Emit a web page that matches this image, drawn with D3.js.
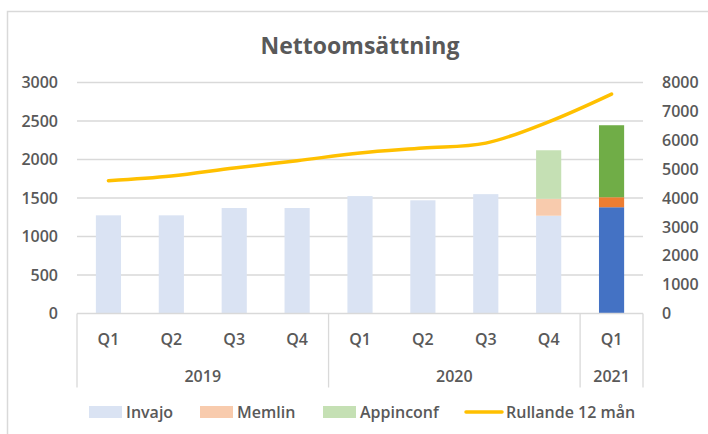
<!DOCTYPE html>
<html>
<head>
<meta charset="utf-8">
<script src="https://cdn.jsdelivr.net/npm/d3@7"></script>
<style>
  body { margin: 0; background: #fff; }
  text { font-family: 'Open Sans', sans-serif; fill: #595959; }
</style>
</head>
<body>
<div id="chart"></div>
<script>
// Data
const quarters = ['Q1', 'Q2', 'Q3', 'Q4', 'Q1', 'Q2', 'Q3', 'Q4', 'Q1'];
const years = ['2019', '2019', '2019', '2019', '2020', '2020', '2020', '2020', '2021'];
const invajo = [1275, 1275, 1370, 1370, 1525, 1470, 1550, 1270, 1380];
const memlin = [0, 0, 0, 0, 0, 0, 0, 220, 130];
const appinconf = [0, 0, 0, 0, 0, 0, 0, 630, 935];
const rullande = [4600, 4760, 5040, 5290, 5560, 5730, 5900, 6640, 7600];
const leftTicks = [0, 500, 1000, 1500, 2000, 2500, 3000];
const rightTicks = [0, 1000, 2000, 3000, 4000, 5000, 6000, 7000, 8000];
const seriesNames = ['Invajo', 'Memlin', 'Appinconf'];
const lineName = 'Rullande 12 mån';
const highlightYear = '2021';

const lightColors = ['#dae3f3', '#f8cbad', '#c5e0b4'];
const darkColors = ['#4472c4', '#ed7d31', '#70ad47'];
const lineColor = '#ffc000';
const gridColor = '#d9d9d9';

//Chart dimensions
const W = 708, H = 434;
const margin = { top: 82.5, bot: 120.5, left: 77, right: 65 };
const width = W - margin.left - margin.right;
const height = H - margin.top - margin.bot;

const svg = d3.select('#chart').append('svg')
  .attr('width', W)
  .attr('height', H);

// outer frame
svg.append('rect')
  .attr('x', 7.5).attr('y', 11.5)
  .attr('width', 720).attr('height', 440)
  .attr('fill', 'none')
  .attr('stroke', gridColor)
  .attr('stroke-width', 1.5);

svg.append('text')
  .attr('x', 360)
  .attr('y', 54)
  .attr('text-anchor', 'middle')
  .style('font-size', '23px')
  .style('font-weight', 700)
  .text('Nettoomsättning');

const g = svg.append('g')
  .attr('transform', `translate(${margin.left}, ${margin.top})`);

// Scales
const idx = quarters.map((d, i) => i);
const xScale = d3.scaleBand()
  .domain(idx)
  .range([0, width])
  .paddingInner(0.6)
  .paddingOuter(0.3);

const step = xScale.step();
const yScale = d3.scaleLinear().domain([0, 3000]).range([height, 0]);
const y2Scale = d3.scaleLinear().domain([0, 8000]).range([height, 0]);

// Gridlines
g.append('g')
  .selectAll('line')
  .data(leftTicks.filter(d => d > 0))
  .join('line')
  .attr('x1', 0).attr('x2', width)
  .attr('y1', d => yScale(d)).attr('y2', d => yScale(d))
  .attr('stroke', gridColor)
  .attr('stroke-width', 1.3);

// Left axis
const yAxis = d3.axisLeft(yScale).tickValues(leftTicks).tickFormat(d3.format('d'))
  .tickSize(0).tickPadding(19);
const yAxisGroup = g.append('g').call(yAxis);
yAxisGroup.select('.domain').remove();

// Right axis
const y2Axis = d3.axisRight(y2Scale).tickValues(rightTicks).tickFormat(d3.format('d'))
  .tickSize(0).tickPadding(19);
const y2AxisGroup = g.append('g')
  .attr('transform', `translate(${width}, 0)`)
  .call(y2Axis);
y2AxisGroup.select('.domain').remove();

g.selectAll('.tick text')
  .style('font-size', '16px')
  .style('font-weight', 600)
  .attr('fill', '#595959');

// Stacked bars
const stacked = d3.stack().keys([0, 1, 2])
  .value((i, k) => [invajo, memlin, appinconf][k][i])(idx);

stacked.forEach((layer, k) => {
  g.append('g')
    .selectAll('rect')
    .data(layer.map((d, i) => ({ d, i })).filter(o => o.d[1] > o.d[0]))
    .join('rect')
    .attr('x', o => xScale(o.i))
    .attr('width', xScale.bandwidth())
    .attr('y', o => yScale(o.d[1]))
    .attr('height', o => yScale(o.d[0]) - yScale(o.d[1]))
    .attr('fill', o => years[o.i] === highlightYear ? darkColors[k] : lightColors[k]);
});

// Category axis
const xAxisGroup = g.append('g').attr('transform', `translate(0, ${height})`);
xAxisGroup.append('line')
  .attr('x1', 0).attr('x2', width)
  .attr('stroke', gridColor).attr('stroke-width', 1.3);

const yearGroups = d3.groups(idx, i => years[i]);
const boundaries = [0];
yearGroups.forEach(([yr, list]) => boundaries.push(list[list.length - 1] + 1));

xAxisGroup.selectAll('.sep')
  .data(boundaries)
  .join('line')
  .attr('class', 'sep')
  .attr('x1', b => b * step).attr('x2', b => b * step)
  .attr('y1', 0).attr('y2', 74)
  .attr('stroke', gridColor).attr('stroke-width', 1.3);

xAxisGroup.selectAll('.q')
  .data(idx)
  .join('text')
  .attr('class', 'q')
  .attr('x', i => xScale(i) + xScale.bandwidth() / 2)
  .attr('y', 26)
  .attr('dy', '0.35em')
  .attr('text-anchor', 'middle')
  .style('font-size', '16px')
  .style('font-weight', 600)
  .text(i => quarters[i]);

xAxisGroup.selectAll('.yr')
  .data(yearGroups)
  .join('text')
  .attr('class', 'yr')
  .attr('x', ([yr, list]) => (list[0] + list[list.length - 1] + 1) / 2 * step)
  .attr('y', 63)
  .attr('dy', '0.35em')
  .attr('text-anchor', 'middle')
  .style('font-size', '16px')
  .style('font-weight', 600)
  .text(([yr]) => yr);

// Line
const rollLine = d3.line()
  .x(i => xScale(i) + xScale.bandwidth() / 2)
  .y(i => y2Scale(rullande[i]))
  .curve(d3.curveCatmullRom.alpha(0.5));

g.append('path')
  .attr('d', rollLine(idx))
  .attr('fill', 'none')
  .attr('stroke', lineColor)
  .attr('stroke-width', 3.5)
  .attr('stroke-linecap', 'round');

// Legend
const legend = svg.append('g').attr('transform', 'translate(0, 412)');
const legendItems = [
  { name: seriesNames[0], color: lightColors[0], x: 89, type: 'rect' },
  { name: seriesNames[1], color: lightColors[1], x: 200, type: 'rect' },
  { name: seriesNames[2], color: lightColors[2], x: 323, type: 'rect' },
  { name: lineName, color: lineColor, x: 466, type: 'line' }
];

legendItems.forEach(item => {
  const li = legend.append('g').attr('transform', `translate(${item.x}, 0)`);
  if (item.type === 'rect') {
    li.append('rect')
      .attr('x', 0).attr('y', -6)
      .attr('width', 33).attr('height', 12)
      .attr('fill', item.color);
  } else {
    li.append('line')
      .attr('x1', 0).attr('x2', 36)
      .attr('stroke', item.color)
      .attr('stroke-width', 3.5)
      .attr('stroke-linecap', 'round');
  }
  li.append('text')
    .attr('x', item.type === 'rect' ? 37 : 40)
    .attr('dy', '0.35em')
    .style('font-size', '16px')
    .style('font-weight', 600)
    .text(item.name);
});
</script>
</body>
</html>
